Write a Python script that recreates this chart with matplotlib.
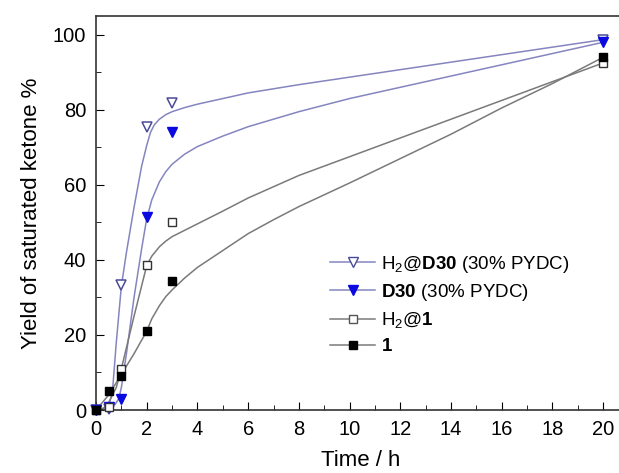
import matplotlib
matplotlib.use('Agg')
import matplotlib.pyplot as plt
from matplotlib.lines import Line2D
from matplotlib.ticker import MultipleLocator

plt.rcParams['font.family'] = ['Liberation Sans', 'DejaVu Sans']
plt.rcParams['mathtext.fontset'] = 'custom'
plt.rcParams['mathtext.rm'] = 'Liberation Sans'
plt.rcParams['mathtext.bf'] = 'Liberation Sans:bold'

# measured points
time_h = [0, 0.5, 1, 2, 3, 20]
h2_d30 = [0, 0.3, 33.3, 75.5, 81.8, 98.5]
d30 = [0, 0.8, 3, 51.5, 74, 98]
h2_1 = [0, 0.8, 11, 38.7, 50, 92.5]
cat_1 = [0, 5, 9, 21, 34.5, 94]

# fitted curves
fit_h2_d30_x = [0, 0.3, 0.5, 0.65, 0.8, 1.0, 1.2, 1.5, 1.8, 2.0, 2.15, 2.3, 2.5, 2.75, 3.0, 3.5, 4, 5, 6, 8, 10, 12, 14, 16, 18, 20]
fit_h2_d30_y = [0, 0.3, 1, 5, 18, 33, 42, 54, 65, 70.5, 74, 76, 77.5, 78.7, 79.5, 80.6, 81.5, 83, 84.5, 86.7, 88.7, 90.7, 92.7, 94.7, 96.7, 98.7]
fit_d30_x = [0, 0.5, 0.7, 0.9, 1.0, 1.2, 1.5, 1.8, 2.0, 2.2, 2.5, 2.75, 3.0, 3.5, 4, 5, 6, 8, 10, 12, 14, 16, 18, 20]
fit_d30_y = [0, 0.5, 1, 3, 6, 15, 30, 43, 51, 56, 60.8, 63.5, 65.5, 68.2, 70.2, 73, 75.5, 79.5, 83, 86, 89, 92, 95, 98]
fit_h2_1_x = [0, 0.3, 0.5, 0.8, 1.0, 1.5, 2.0, 2.2, 2.5, 2.75, 3, 3.5, 4, 5, 6, 8, 10, 12, 14, 16, 18, 20]
fit_h2_1_y = [0, 0.5, 2, 6, 11, 25, 38.5, 41, 43.5, 45, 46.2, 47.9, 49.6, 53, 56.5, 62.5, 67.5, 72.5, 77.5, 82.5, 87.5, 92.5]
fit_1_x = [0, 0.5, 1, 1.5, 2, 2.2, 2.5, 2.75, 3, 3.5, 4, 5, 6, 7, 8, 10, 12, 14, 16, 18, 20]
fit_1_y = [0, 4, 9.5, 15, 21, 24.3, 27.8, 30.2, 32, 35.2, 38, 42.5, 47, 50.7, 54.2, 60.5, 67, 73.5, 80.5, 87, 94]

labels = [r'H$_2$@$\mathbf{D30}$ (30% PYDC)', r'$\mathbf{D30}$ (30% PYDC)',
          r'H$_2$@$\mathbf{1}$', r'$\mathbf{1}$']

blue_line = '#8585c0'
grey_line = '#7a7a7a'

fig = plt.figure(figsize=(6.19, 4.73), dpi=100)
ax = fig.add_axes([96 / 619, 63 / 473, 530 / 619, 394 / 473])

ax.plot(fit_h2_d30_x, fit_h2_d30_y, color=blue_line, lw=1.1)
ax.plot(fit_d30_x, fit_d30_y, color=blue_line, lw=1.1)
ax.plot(fit_h2_1_x, fit_h2_1_y, color=grey_line, lw=1.1)
ax.plot(fit_1_x, fit_1_y, color=grey_line, lw=1.1)

ax.plot(time_h, h2_d30, 'v', ms=7.5, mfc='white', mec='#4a4a98', mew=1.1, clip_on=False, zorder=5)
ax.plot(time_h, d30, 'v', ms=7.5, mfc='#0a0ae0', mec='#0a0ae0', clip_on=False, zorder=5)
ax.plot(time_h, h2_1, 's', ms=6, mfc='white', mec='#333333', mew=1.0, clip_on=False, zorder=5)
ax.plot(time_h, cat_1, 's', ms=6, mfc='black', mec='black', clip_on=False, zorder=5)

handles = [
    Line2D([], [], color=blue_line, marker='v', ms=7.5, mfc='white', mec='#4a4a98', lw=1.1),
    Line2D([], [], color=blue_line, marker='v', ms=7.5, mfc='#0a0ae0', mec='#0a0ae0', lw=1.1),
    Line2D([], [], color=grey_line, marker='s', ms=5.5, mfc='white', mec='#555555', lw=1.1),
    Line2D([], [], color=grey_line, marker='s', ms=5.5, mfc='black', mec='black', lw=1.1),
]
ax.legend(handles, labels, loc='upper left', bbox_to_anchor=(0.41, 0.44), frameon=False,
          fontsize=13.5, handlelength=2.4, handletextpad=0.3, labelspacing=0.4)

ax.set_xlim(0, 20.9)
ax.set_ylim(0, 105)
ax.xaxis.set_major_locator(MultipleLocator(2))
ax.xaxis.set_minor_locator(MultipleLocator(1))
ax.yaxis.set_major_locator(MultipleLocator(20))
ax.yaxis.set_minor_locator(MultipleLocator(10))
ax.tick_params(which='both', direction='in', labelsize=14.5, top=False, right=False)
ax.tick_params(which='major', length=6, pad=7)
ax.tick_params(which='minor', length=3.5)
ax.spines['right'].set_visible(False)
for s in ['left', 'bottom', 'top']:
    ax.spines[s].set_color('#333333')
    ax.spines[s].set_linewidth(1.2)

ax.set_xlabel('Time / h', fontsize=16, labelpad=8)
ax.set_ylabel('Yield of saturated ketone %', fontsize=16, labelpad=8)

fig.savefig('out.png', dpi=100)
